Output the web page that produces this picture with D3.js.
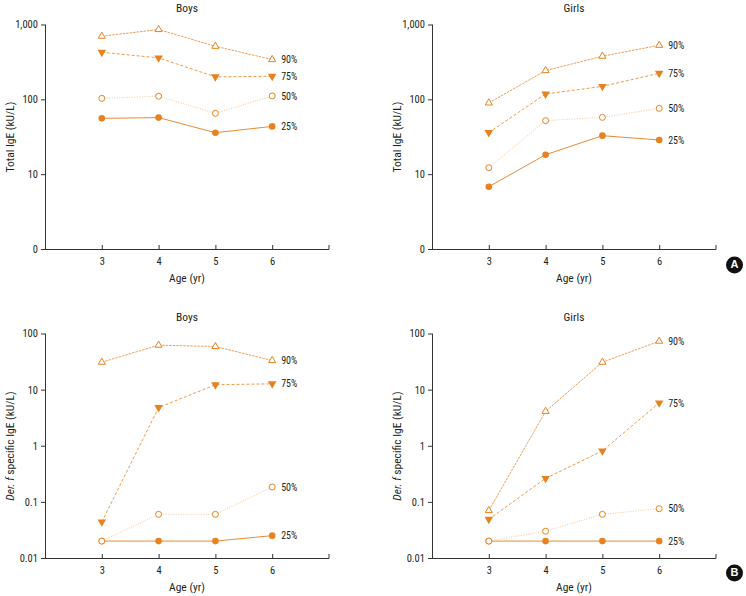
<!DOCTYPE html>
<html>
<head>
<meta charset="utf-8">
<script src="https://cdn.jsdelivr.net/npm/d3@7"></script>
<style>
  html, body { margin: 0; padding: 0; background: #fff; }
  svg text { font-family: "Roboto Condensed", "Roboto", sans-serif; fill: #231f20; }
</style>
</head>
<body>
<svg id="chart" width="746" height="596"></svg>
<script>
// ---- Data ----
const ages = [3, 4, 5, 6];
const percentiles = ["25%", "50%", "75%", "90%"];

const totalBoys25 = [55.7, 57, 35.8, 43.5];
const totalBoys50 = [103, 110, 65, 111];
const totalBoys75 = [426, 358, 200, 203];
const totalBoys90 = [697, 857, 512, 340];

const totalGirls25 = [6.8, 18.2, 32.7, 28.6];
const totalGirls50 = [12.2, 51.9, 57.4, 75.8];
const totalGirls75 = [36, 118, 149, 223];
const totalGirls90 = [89.5, 242, 377, 528];

const derfBoys25 = [0.02, 0.02, 0.02, 0.025];
const derfBoys50 = [0.02, 0.06, 0.06, 0.184];
const derfBoys75 = [0.044, 4.8, 12.2, 12.7];
const derfBoys90 = [30.8, 62, 58.6, 33];

const derfGirls25 = [0.02, 0.02, 0.02, 0.02];
const derfGirls50 = [0.02, 0.03, 0.06, 0.0755];
const derfGirls75 = [0.049, 0.262, 0.81, 5.8];
const derfGirls90 = [0.07, 4.1, 30.8, 72.9];

const totalTicks = [1, 10, 100, 1000];
const totalTickLabels = ["0", "10", "100", "1,000"];
const derfTicks = [0.01, 0.1, 1, 10, 100];
const derfTickLabels = ["0.01", "0.1", "1", "10", "100"];

// ---- Styles ----
const FONT = '"Roboto Condensed", "Roboto", sans-serif';
const ORANGE = "#e8821e";
const seriesStyle = {
  "25%": { stroke: "#e98a36", dash: null, marker: "circleFilled", width: 1 },
  "50%": { stroke: "#f5c79c", dash: "1,1.5", marker: "circleOpen", width: 1 },
  "75%": { stroke: "#ee9a4c", dash: "3,2", marker: "triDown", width: 1 },
  "90%": { stroke: "#ee9e58", dash: "2.5,1", marker: "triUp", width: 1 }
};

const svg = d3.select("#chart");

function drawPanel(cfg) {
  const g = svg.append("g");
  const x = d3.scaleLinear().domain([2, 7]).range([cfg.left, cfg.left + 284]);
  const y = d3.scaleLog().domain(cfg.yDomain).range([cfg.bottom, cfg.bottom - 224.5]);

  const yAxis = d3.axisLeft(y).tickValues(cfg.ticks)
    .tickFormat((d, i) => cfg.tickLabels[i]).tickSize(4).tickPadding(3);
  const ya = g.append("g").attr("transform", `translate(${cfg.left},0)`).call(yAxis);
  const xAxis = d3.axisBottom(x).tickValues(ages).tickFormat(d3.format("d"))
    .tickSize(-4).tickPadding(9).tickSizeOuter(-4);
  const xa = g.append("g").attr("transform", `translate(0,${cfg.bottom})`).call(xAxis);
  [ya, xa].forEach(a => {
    a.select(".domain").attr("stroke", "#333").attr("stroke-width", 1);
    a.selectAll(".tick line").attr("stroke", "#333");
    a.selectAll(".tick text").style("font-size", "10.5px").attr("fill", "#231f20")
      .style("font-family", FONT);
  });
  ya.select(".domain").attr("d", `M0.5,${cfg.bottom - 224.5}V${cfg.bottom}`);
  xa.select(".domain").attr("d", `M${cfg.left},0.5H${cfg.left + 284}V-4`);

  g.append("text").attr("x", cfg.left + 142).attr("y", cfg.bottom - 240)
    .attr("text-anchor", "middle").attr("dominant-baseline", "middle")
    .style("font-size", "11.5px").text(cfg.title);
  g.append("text").attr("x", cfg.left + 142).attr("y", cfg.bottom + 29.5)
    .attr("text-anchor", "middle").attr("dominant-baseline", "middle")
    .style("font-size", "11.5px").text("Age (yr)");
  const yl = g.append("text")
    .attr("transform", `translate(${cfg.left - 34},${cfg.bottom - 112}) rotate(-90)`)
    .attr("text-anchor", "middle").attr("dominant-baseline", "middle")
    .style("font-size", "11.5px");
  if (cfg.italicPrefix) {
    yl.append("tspan").style("font-style", "italic").text(cfg.italicPrefix);
  }
  yl.append("tspan").text(cfg.yLabel);

  const line = d3.line().x((d, i) => x(ages[i])).y(d => y(d));

  ["90%", "75%", "50%", "25%"].forEach(p => {
    const st = seriesStyle[p];
    g.append("path").datum(cfg.series[p]).attr("d", line)
      .attr("fill", "none").attr("stroke", st.stroke).attr("stroke-width", st.width)
      .attr("stroke-dasharray", st.dash);
  });

  ["90%", "75%", "25%", "50%"].forEach(p => {
    const st = seriesStyle[p];
    const vals = cfg.series[p];
    vals.forEach((v, i) => {
      const cx = x(ages[i]), cy = y(v);
      if (st.marker === "circleFilled") {
        g.append("circle").attr("cx", cx).attr("cy", cy).attr("r", 3.3).attr("fill", ORANGE);
      } else if (st.marker === "circleOpen") {
        g.append("circle").attr("cx", cx).attr("cy", cy).attr("r", 3)
          .attr("fill", "#fff").attr("stroke", ORANGE).attr("stroke-width", 1);
      } else if (st.marker === "triUp") {
        g.append("path").attr("d", d3.symbol(d3.symbolTriangle, 22)())
          .attr("transform", `translate(${cx},${cy})`)
          .attr("fill", "#fff").attr("stroke", ORANGE).attr("stroke-width", 1);
      } else {
        g.append("path").attr("d", d3.symbol(d3.symbolTriangle, 32)())
          .attr("transform", `translate(${cx},${cy}) rotate(180)`)
          .attr("fill", ORANGE);
      }
    });
    g.append("text").attr("x", x(ages[3]) + 9).attr("y", y(vals[3]) + 1)
      .attr("dominant-baseline", "middle").style("font-size", "10px").text(p);
  });
}

drawPanel({ left: 45, bottom: 249, yDomain: [1, 1000], ticks: totalTicks, tickLabels: totalTickLabels,
  title: "Boys", yLabel: "Total IgE (kU/L)",
  series: { "25%": totalBoys25, "50%": totalBoys50, "75%": totalBoys75, "90%": totalBoys90 } });
drawPanel({ left: 432, bottom: 249, yDomain: [1, 1000], ticks: totalTicks, tickLabels: totalTickLabels,
  title: "Girls", yLabel: "Total IgE (kU/L)",
  series: { "25%": totalGirls25, "50%": totalGirls50, "75%": totalGirls75, "90%": totalGirls90 } });
drawPanel({ left: 45, bottom: 558, yDomain: [0.01, 100], ticks: derfTicks, tickLabels: derfTickLabels,
  title: "Boys", italicPrefix: "Der. f ", yLabel: "specific IgE (kU/L)",
  series: { "25%": derfBoys25, "50%": derfBoys50, "75%": derfBoys75, "90%": derfBoys90 } });
drawPanel({ left: 432, bottom: 558, yDomain: [0.01, 100], ticks: derfTicks, tickLabels: derfTickLabels,
  title: "Girls", italicPrefix: "Der. f ", yLabel: "specific IgE (kU/L)",
  series: { "25%": derfGirls25, "50%": derfGirls50, "75%": derfGirls75, "90%": derfGirls90 } });

[["A", 265], ["B", 573]].forEach(([t, cy]) => {
  svg.append("circle").attr("cx", 734.5).attr("cy", cy).attr("r", 8.5).attr("fill", "#111");
  svg.append("text").attr("x", 734.5).attr("y", cy + 0.5).attr("text-anchor", "middle")
    .attr("dominant-baseline", "middle").style("font-family", '"Liberation Sans", Arial, sans-serif')
    .style("font-weight", "bold").style("font-size", "11px").style("fill", "#fff").text(t);
});
</script>
</body>
</html>
